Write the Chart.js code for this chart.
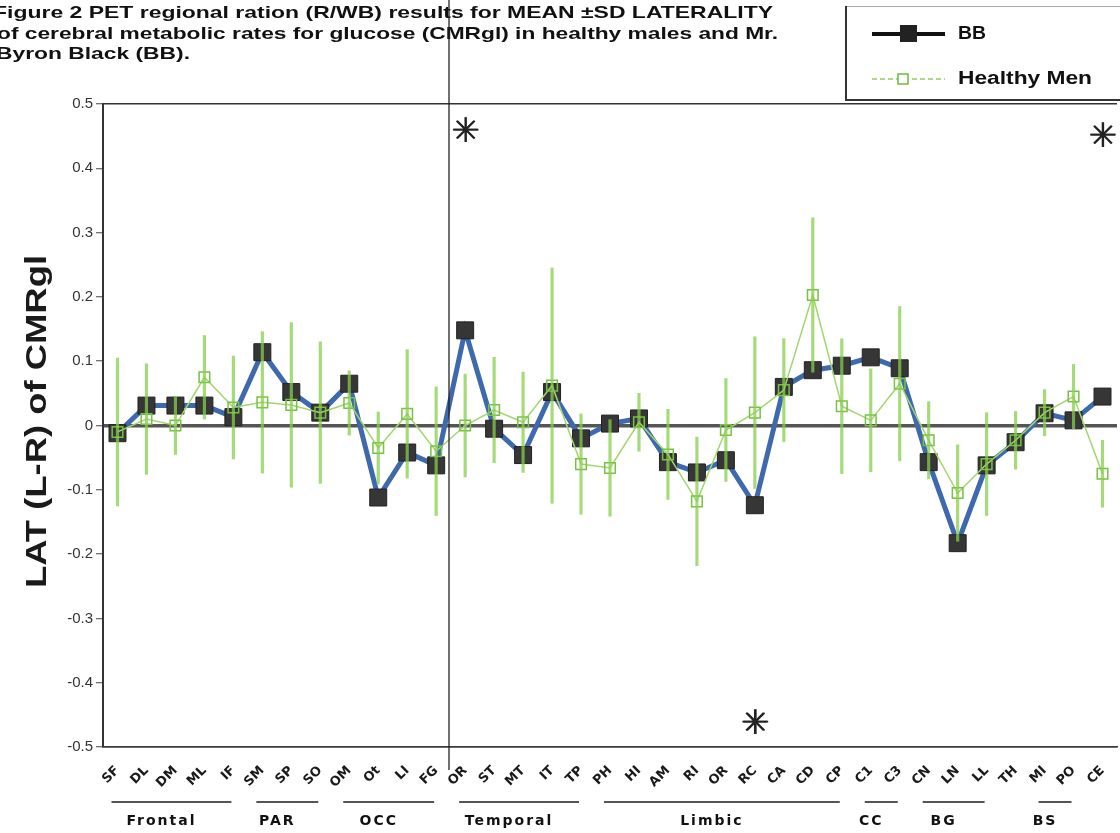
<!DOCTYPE html>
<html>
<head>
<meta charset="utf-8">
<script src="https://cdn.jsdelivr.net/npm/chart.js@4.4.0/dist/chart.umd.min.js"></script>
<style>
  html, body { margin: 0; padding: 0; background: #fff; overflow: hidden; }
  canvas { display: block; }
</style>
</head>
<body>
<canvas id="lat" width="1130" height="833"></canvas>
<script>
// regions along the x axis
const regions = ['SF','DL','DM','ML','IF','SM','SP','SO','OM','Ot','LI','FG','OR','ST','MT','IT','TP',
  'PH','HI','AM','RI','OR','RC','CA','CD','CP','C1','C3','CN','LN','LL','TH','MI','PO','CE'];

// Mr. Byron Black laterality
const bbValues = [-0.012,0.031,0.031,0.031,0.013,0.114,0.052,0.02,0.065,-0.112,-0.042,-0.062,0.148,-0.005,
  -0.046,0.052,-0.02,0.003,0.011,-0.057,-0.073,-0.054,-0.124,0.06,0.086,0.093,0.106,0.089,-0.057,-0.183,
  -0.062,-0.026,0.019,0.008,0.045];

// healthy men mean and SD
const hmMean = [-0.01,0.01,0.0,0.075,0.028,0.036,0.032,0.02,0.035,-0.035,0.018,-0.04,0.0,0.024,0.005,0.062,
  -0.06,-0.066,0.005,-0.045,-0.118,-0.007,0.02,0.055,0.203,0.03,0.008,0.065,-0.023,-0.105,-0.06,-0.023,
  0.02,0.045,-0.075];
const hmSd = [0.115,0.086,0.045,0.065,0.08,0.11,0.128,0.11,0.05,0.056,0.1,0.1,0.08,0.082,0.078,0.183,0.078,
  0.075,0.045,0.07,0.1,0.08,0.118,0.08,0.12,0.105,0.08,0.12,0.06,0.075,0.08,0.045,0.036,0.05,0.052];

const yTicks = [-0.5,-0.4,-0.3,-0.2,-0.1,0,0.1,0.2,0.3,0.4,0.5];
const yTickLabels = ['-0.5','-0.4','-0.3','-0.2','-0.1','0','0.1','0.2','0.3','0.4','0.5'];

// region groups (first / last index)
const groupNames = ['Frontal','PAR','OCC','Temporal','Limbic','CC','BG','BS'];
const groupFirst = [0,5,8,12,17,26,28,32];
const groupLast  = [4,7,11,16,25,27,30,33];

// significance stars: region index and height
const starIndex = [12, 34, 22];
const starValue = [0.455, 0.447, -0.466];

const titleLines = [
  'Figure 2 PET regional ration (R/WB) results for MEAN \u00b1SD LATERALITY',
  'of cerebral metabolic rates for glucose (CMRgl) in healthy males and Mr.',
  'Byron Black (BB).'
];

// squeeze or stretch a line of text to a given width
function fitText(c, text, x, y, width) {
  const w = c.measureText(text).width;
  c.save();
  c.translate(x, y);
  c.scale(width / w, 1);
  c.fillText(text, 0, 0);
  c.restore();
}

const decor = {
  id: 'decor',
  beforeDraw(chart) {
    const c = chart.ctx;
    c.save();
    c.fillStyle = '#fff';
    c.fillRect(0, 0, chart.width, chart.height);
    c.restore();
  },
  afterDraw(chart) {
    const c = chart.ctx;
    const x = chart.scales.x, y = chart.scales.y;
    c.save();

    // title
    c.fillStyle = '#111';
    c.textBaseline = 'middle';
    c.textAlign = 'left';
    c.font = 'bold 17px "Liberation Sans", Arial, sans-serif';
    fitText(c, titleLines[0], -7, 13, 780);
    fitText(c, titleLines[1], -3, 34, 781);
    fitText(c, titleLines[2], -4, 54, 194);

    // legend box
    c.strokeStyle = '#aaa';
    c.lineWidth = 1;
    c.beginPath(); c.moveTo(845, 6.5); c.lineTo(1130, 6.5); c.stroke();
    c.strokeStyle = '#333';
    c.lineWidth = 2;
    c.beginPath(); c.moveTo(846, 6); c.lineTo(846, 100); c.lineTo(1130, 100); c.stroke();

    c.strokeStyle = '#111';
    c.lineWidth = 4;
    c.beginPath(); c.moveTo(872, 34); c.lineTo(945, 34); c.stroke();
    c.fillStyle = '#222';
    c.fillRect(900, 25, 17, 17);

    c.strokeStyle = '#93cc62';
    c.lineWidth = 1.5;
    c.setLineDash([5, 3]);
    c.beginPath(); c.moveTo(872, 79); c.lineTo(945, 79); c.stroke();
    c.setLineDash([]);
    c.fillStyle = '#fff';
    c.fillRect(898, 74, 10, 10);
    c.strokeStyle = '#6fbb3e';
    c.strokeRect(898, 74, 10, 10);

    c.fillStyle = '#111';
    c.font = 'bold 18px "Liberation Sans", Arial, sans-serif';
    fitText(c, 'BB', 958, 34, 28);
    fitText(c, 'Healthy Men', 958, 79, 134);

    // y axis title
    c.save();
    c.translate(38, 422);
    c.rotate(-Math.PI / 2);
    c.textAlign = 'left';
    c.font = 'bold 30px "Liberation Sans", Arial, sans-serif';
    c.fillStyle = '#1a1a1a';
    fitText(c, 'LAT (L-R) of CMRgl', -166, 0, 333);
    c.restore();

    // stars
    c.textAlign = 'center';
    c.font = 'bold 34px "DejaVu Sans"';
    c.fillStyle = '#222';
    starIndex.forEach((idx, i) => {
      const px = x.getPixelForValue(idx), py = y.getPixelForValue(starValue[i]);
      c.fillText('\u2733', px, py);
      c.fillText('\u2733', px + 0.8, py);
    });

    // group underlines and names
    c.strokeStyle = '#555';
    c.lineWidth = 2;
    c.font = 'bold 14px "DejaVu Sans"';
    c.letterSpacing = '2px';
    c.fillStyle = '#111';
    groupNames.forEach((name, i) => {
      const x0 = x.getPixelForValue(groupFirst[i]) - 6;
      const x1 = x.getPixelForValue(groupLast[i]) - 2;
      c.beginPath(); c.moveTo(x0, 802); c.lineTo(x1, 802); c.stroke();
      c.fillText(name, (x0 + x1) / 2 - 10, 821);
    });
    c.letterSpacing = '0px';

    // fold line across the sheet
    c.strokeStyle = 'rgba(30,30,30,0.85)';
    c.lineWidth = 1.5;
    c.beginPath(); c.moveTo(449, 0); c.lineTo(449, 770); c.stroke();

    c.restore();
  }
};

const ctx = document.getElementById('lat');

new Chart(ctx, {
  type: 'line',
  data: {
    labels: regions,
    datasets: [
      {
        type: 'bar',
        label: 'SD',
        data: hmMean.map((m, i) => [m - hmSd[i], m + hmSd[i]]),
        backgroundColor: 'rgba(135,205,75,0.75)',
        barThickness: 2.5,
        order: 0
      },
      {
        label: 'Healthy Men',
        data: hmMean,
        borderColor: '#a2d66f',
        borderWidth: 1.5,
        pointStyle: 'rect',
        pointRadius: 7.5,
        pointBorderColor: '#78c046',
        pointBorderWidth: 1.5,
        pointBackgroundColor: 'rgba(255,255,255,0)',
        order: 1
      },
      {
        label: 'BB',
        data: bbValues,
        borderColor: '#3e69ad',
        borderWidth: 5,
        pointStyle: 'rect',
        pointRadius: 12,
        pointBackgroundColor: '#363636',
        pointBorderColor: '#222',
        pointBorderWidth: 1,
        order: 2
      }
    ]
  },
  options: {
    responsive: false,
    animation: false,
    layout: { padding: { top: 104, right: 5, left: 0, bottom: 0 } },
    plugins: { legend: { display: false }, tooltip: { enabled: false } },
    scales: {
      x: {
        offset: true,
        grid: { display: false },
        border: { display: true, color: '#3a3a3a', width: 1.5 },
        ticks: {
          autoSkip: false,
          minRotation: 45,
          maxRotation: 45,
          padding: 8,
          color: '#1a1a1a',
          font: { family: 'DejaVu Sans', weight: 'bold', size: 13 }
        },
        afterFit(s) { s.height = 86; }
      },
      y: {
        min: -0.5,
        max: 0.5,
        afterBuildTicks(s) { s.ticks = yTicks.map(v => ({ value: v })); },
        border: { display: true, color: '#333', width: 2 },
        grid: {
          color(c) {
            const v = c.tick.value;
            if (Math.abs(v) < 1e-9) return '#555';
            if (Math.abs(Math.abs(v) - 0.5) < 1e-9) return '#333';
            return 'rgba(0,0,0,0)';
          },
          lineWidth(c) {
            const v = c.tick.value;
            return Math.abs(v) < 1e-9 ? 3.5 : 1.5;
          },
          tickColor: '#444',
          tickLength: 7,
          tickWidth: 1
        },
        ticks: {
          padding: 3,
          color: '#333',
          font: { family: 'Liberation Sans', size: 15 },
          callback(v, i) { return yTickLabels[i]; }
        },
        afterFit(s) { s.width = 103; }
      }
    }
  },
  plugins: [decor]
});
</script>
</body>
</html>
